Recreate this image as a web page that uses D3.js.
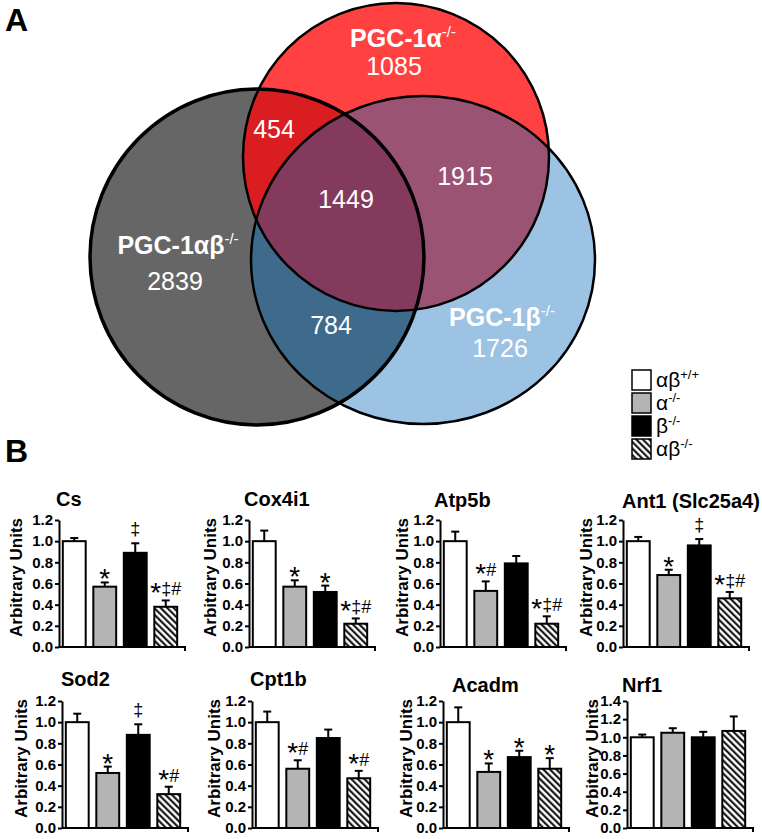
<!DOCTYPE html>
<html><head><meta charset="utf-8">
<script src="https://cdn.jsdelivr.net/npm/d3@7"></script>
<style>body{margin:0;background:#fff}svg{display:block}text{font-family:"Liberation Sans",Arial,sans-serif}</style>
</head><body>
<svg id="c" width="762" height="839"></svg>
<script>
// ---------- DATA ----------
const vennSetNames = ["PGC-1αβ", "PGC-1α", "PGC-1β"];
const vennSetSup = ["-/-", "-/-", "-/-"];
const vennRegions = ["αβ", "α", "β", "αβ∩α", "α∩β", "αβ∩β", "αβ∩α∩β"];
const vennCounts = [2839, 1085, 1726, 454, 1915, 784, 1449];

const groups = ["αβ", "α", "β", "αβ"];
const groupSup = ["+/+", "-/-", "-/-", "-/-"];

const genes = ["Cs", "Cox4i1", "Atp5b", "Ant1 (Slc25a4)", "Sod2", "Cpt1b", "Acadm", "Nrf1"];
const yMaxes = [1.2, 1.2, 1.2, 1.2, 1.2, 1.2, 1.2, 1.4];
const means = [
  [1.00, 0.57, 0.89, 0.38],
  [1.00, 0.57, 0.52, 0.22],
  [1.00, 0.53, 0.79, 0.22],
  [1.00, 0.68, 0.96, 0.46],
  [1.00, 0.52, 0.88, 0.32],
  [1.00, 0.56, 0.85, 0.47],
  [1.00, 0.53, 0.67, 0.56],
  [1.00, 1.05, 1.00, 1.07]
];
const sems = [
  [0.03, 0.04, 0.09, 0.06],
  [0.10, 0.06, 0.06, 0.05],
  [0.09, 0.09, 0.07, 0.07],
  [0.04, 0.05, 0.06, 0.06],
  [0.08, 0.06, 0.10, 0.07],
  [0.10, 0.08, 0.08, 0.07],
  [0.14, 0.08, 0.06, 0.10],
  [0.03, 0.05, 0.06, 0.16]
];
const marks = [
  ["", "*", "‡", "*‡#"],
  ["", "*", "*", "*‡#"],
  ["", "*#", "", "*‡#"],
  ["", "*", "‡", "*‡#"],
  ["", "*", "‡", "*#"],
  ["", "*#", "", "*#"],
  ["", "*", "*", "*"],
  ["", "", "", ""]
];
const yTickStep = 0.2;
const yLabel = "Arbitrary Units";

// ---------- LAYOUT / STYLE ----------
const svg = d3.select("#c");
const defs = svg.append("defs");

const circles = [
  {cx: 257, cy: 257, rx: 167, ry: 168, sw: 3.5},
  {cx: 396, cy: 157, rx: 153, ry: 154, sw: 2.5},
  {cx: 423, cy: 260, rx: 172, ry: 164, sw: 2.5}
];
const regionPos = [[175, 290], [394, 75], [500, 357], [274, 138], [465, 185], [331, 334], [346, 208]];
const setLabelPos = [[178, 254], [403, 47], [502, 326]];
const fills = {
  ab: "#666666", a: "#ff4141", b: "#9dc3e4",
  ab_a: "#d91d20", a_b: "#9b5374", ab_b: "#3e6a8c", all: "#843a5c"
};

circles.forEach((c, i) => {
  defs.append("clipPath").attr("id", "clip" + i)
    .append("ellipse").attr("cx", c.cx).attr("cy", c.cy).attr("rx", c.rx).attr("ry", c.ry);
});
const venn = svg.append("g");
function ell(g, c, fill) {
  return g.append("ellipse").attr("cx", c.cx).attr("cy", c.cy).attr("rx", c.rx).attr("ry", c.ry).attr("fill", fill);
}
ell(venn, circles[0], fills.ab);
ell(venn, circles[2], fills.b);
ell(venn, circles[1], fills.a);
ell(venn.append("g").attr("clip-path", "url(#clip0)"), circles[2], fills.ab_b);
ell(venn.append("g").attr("clip-path", "url(#clip0)"), circles[1], fills.ab_a);
ell(venn.append("g").attr("clip-path", "url(#clip1)"), circles[2], fills.a_b);
ell(venn.append("g").attr("clip-path", "url(#clip0)").append("g").attr("clip-path", "url(#clip1)"), circles[2], fills.all);
circles.forEach(c => {
  venn.append("ellipse").attr("cx", c.cx).attr("cy", c.cy).attr("rx", c.rx).attr("ry", c.ry)
    .attr("fill", "none").attr("stroke", "#000").attr("stroke-width", c.sw);
});
venn.selectAll("text.cnt").data(vennCounts).join("text").attr("class", "cnt")
  .attr("x", (d, i) => regionPos[i][0]).attr("y", (d, i) => regionPos[i][1])
  .attr("text-anchor", "middle").attr("fill", "#fff").attr("font-size", 25).text(d => d);
vennSetNames.forEach((n, i) => {
  const t = venn.append("text").attr("x", setLabelPos[i][0]).attr("y", setLabelPos[i][1])
    .attr("text-anchor", "middle").attr("fill", "#fff").attr("font-size", 25).attr("font-weight", "bold");
  t.append("tspan").text(n);
  t.append("tspan").attr("font-size", 15).attr("font-weight", "normal").attr("dy", -10).text(vennSetSup[i]);
});

svg.append("text").attr("x", 5).attr("y", 31).attr("font-size", 32).attr("font-weight", "bold").text("A");
svg.append("text").attr("x", 5).attr("y", 462).attr("font-size", 32).attr("font-weight", "bold").text("B");

const pat = defs.append("pattern").attr("id", "hatch").attr("patternUnits", "userSpaceOnUse")
  .attr("width", 4.6).attr("height", 4.6).attr("patternTransform", "rotate(-45)");
pat.append("rect").attr("width", 4.6).attr("height", 4.6).attr("fill", "#fff");
pat.append("line").attr("x1", 1.2).attr("x2", 1.2).attr("y1", 0).attr("y2", 4.6).attr("stroke", "#000").attr("stroke-width", 2);

const groupFill = ["#ffffff", "#b4b4b4", "#000000", "url(#hatch)"];

const legX = 632, legY = [370, 393, 416, 439];
const leg = svg.append("g");
groups.forEach((g, i) => {
  leg.append("rect").attr("x", legX).attr("y", legY[i]).attr("width", 19).attr("height", 20)
    .attr("fill", groupFill[i]).attr("stroke", "#000").attr("stroke-width", 1.5);
  const t = leg.append("text").attr("x", legX + 24).attr("y", legY[i] + 17).attr("font-size", 21);
  t.append("tspan").text(g);
  t.append("tspan").attr("font-size", 13).attr("dy", -8).text(groupSup[i]);
});

const panelX = [59, 249, 440, 623, 62, 252, 443, 627];
const panelRow = [0, 0, 0, 0, 1, 1, 1, 1];
const rowY0 = [647, 828];
const axisH = 127, axisW = 126;
const titlePos = [[-3, 506], [-5, 506], [-6, 507], [-1, 508], [-1, 686], [-2, 686], [9, 692], [-5, 692]];
const yLabelDX = [-43, -39, -38, -37, -41, -38, -37, -35];

genes.forEach((gene, p) => {
  const x0 = panelX[p], y0 = rowY0[panelRow[p]];
  const g = svg.append("g");
  const x = d3.scaleBand().domain(d3.range(4)).range([x0, x0 + 122]).paddingInner(0.25).paddingOuter(0.125);
  const y = d3.scaleLinear().domain([0, yMaxes[p]]).range([y0, y0 - axisH]);
  const data = means[p].map((m, i) => ({i, m, e: sems[p][i], mk: marks[p][i]}));

  data.forEach(d => {
    const cx = x(d.i) + x.bandwidth() / 2;
    g.append("line").attr("x1", cx).attr("x2", cx).attr("y1", y(d.m)).attr("y2", y(d.m + d.e))
      .attr("stroke", "#000").attr("stroke-width", 2);
    g.append("line").attr("x1", cx - 4).attr("x2", cx + 4).attr("y1", y(d.m + d.e)).attr("y2", y(d.m + d.e))
      .attr("stroke", "#000").attr("stroke-width", 2);
  });
  g.selectAll("rect.bar").data(data).join("rect").attr("class", "bar")
    .attr("x", d => x(d.i)).attr("width", x.bandwidth())
    .attr("y", d => y(d.m)).attr("height", d => y0 - y(d.m))
    .attr("fill", d => groupFill[d.i]).attr("stroke", "#000").attr("stroke-width", 2);

  data.filter(d => d.mk).forEach(d => {
    const cx = x(d.i) + x.bandwidth() / 2;
    const top = y(d.m + d.e);
    const chars = d.mk.split("");
    const only = chars.length === 1;
    let base;
    if (only && chars[0] === "*") base = top + 6;
    else if (only) base = top - 8;
    else base = top - 5;
    const t = g.append("text").attr("x", cx).attr("y", base).attr("text-anchor", "middle").attr("font-size", 18);
    chars.forEach((c, k) => {
      if (c === "*") {
        if (only) t.append("tspan").attr("font-size", 28).text(c);
        else t.append("tspan").attr("font-size", 28).attr("dy", 7).text(c);
      } else {
        const ts = t.append("tspan").text(c);
        if (k > 0 && chars[k - 1] === "*" && !only) ts.attr("dy", -7);
      }
    });
  });

  const ticks = d3.range(0, yMaxes[p] + 1e-6, yTickStep);
  const ax = g.append("g").attr("transform", `translate(${x0},0)`)
    .call(d3.axisLeft(y).tickValues(ticks).tickFormat(d3.format(".1f")).tickSize(4).tickSizeOuter(0).tickPadding(2));
  ax.select(".domain").attr("stroke-width", 2);
  ax.selectAll(".tick line").attr("stroke-width", 2);
  ax.selectAll(".tick text").attr("font-size", 15).attr("font-weight", "bold")
    .attr("font-family", "'Liberation Sans', Arial, sans-serif").attr("fill", "#000");
  g.append("path").attr("d", `M${x0},${y0}H${x0 + axisW}v4`).attr("fill", "none").attr("stroke", "#000").attr("stroke-width", 2);

  g.append("text").attr("x", x0 + titlePos[p][0]).attr("y", titlePos[p][1])
    .attr("font-size", 20).attr("font-weight", "bold").text(gene);
  g.append("text").attr("transform", `translate(${x0 + yLabelDX[p]},${y0 - axisH / 2 - 6}) rotate(-90)`)
    .attr("text-anchor", "middle").attr("dominant-baseline", "central")
    .attr("font-size", 17).attr("font-weight", "bold").text(yLabel);
});
</script>
</body></html>
